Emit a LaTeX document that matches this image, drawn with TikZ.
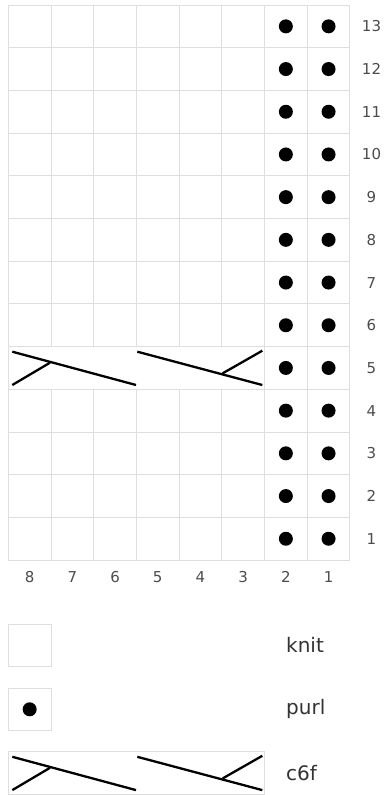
\documentclass[tikz,border=0pt]{standalone}
\usepackage{fontspec}
\setmainfont{DejaVu Sans}
\begin{document}
\begin{tikzpicture}[x=1pt,y=-1pt,
  gridline/.style={draw=black!13,line width=1pt},
  cable/.style={line width=2.3pt,black},
  purldot/.style={circle,fill=black,inner sep=0pt,minimum size=14pt},
  numlab/.style={font=\fontsize{15}{17}\selectfont,text=black!70,inner sep=0pt},
  leglab/.style={font=\fontsize{20}{24}\selectfont,text=black!80,anchor=west,inner sep=0pt}]
\useasboundingbox (0,0) rectangle (387,795);
\fill[white] (0,0) rectangle (387,795);
% cell geometry
\def\X{8.3}\def\W{42.7}\def\Y{5}
% grid cells
\foreach \r in {1,...,13}{
  \foreach \c in {1,...,8}{
    \pgfmathsetmacro{\lx}{\X+(8-\c)*\W}
    \pgfmathsetmacro{\ty}{\Y+(13-\r)*\W}
    \ifnum\r=5
      \ifnum\c<3
        \draw[gridline] (\lx,\ty) rectangle ++(\W,\W);
      \fi
    \else
      \draw[gridline] (\lx,\ty) rectangle ++(\W,\W);
    \fi
  }
}
% cable cell of row 5
\draw[gridline] (\X,346.6) rectangle (264.5,389.3);
\coordinate (ca1) at (12.3,351.7); \coordinate (ca2) at (136,385);
\coordinate (cb1) at (12.3,385);   \coordinate (cb2) at (50,362.7);
\coordinate (cc1) at (137.3,351.7);\coordinate (cc2) at (262.3,385);
\coordinate (cd1) at (222.7,373.3);\coordinate (cd2) at (262.3,350.7);
\draw[cable] (ca1) -- (ca2);
\draw[cable] (cb1) -- (cb2);
\draw[cable] (cc1) -- (cc2);
\draw[cable] (cd1) -- (cd2);
% purl dots
\foreach \r in {1,...,13}{
  \pgfmathsetmacro{\cy}{\Y+(13-\r)*\W+\W/2}
  \node[purldot] (p2r\r) at (285.85,\cy) {};
  \node[purldot] (p1r\r) at (328.55,\cy) {};
  \node[numlab] (row\r) at (371.5,\cy) {\r};
}
% column numbers
\foreach \c in {1,...,8}{
  \pgfmathsetmacro{\cx}{\X+(8-\c)*\W+\W/2}
  \node[numlab] (col\c) at (\cx,577) {\c};
}
% legend
\draw[gridline] (\X,624) rectangle ++(\W,\W);
\node[leglab] (lknit) at (286,645.3) {knit};
\draw[gridline] (\X,688) rectangle ++(\W,\W);
\node[purldot] (lpdot) at (29.65,709.3) {};
\node[leglab] (lpurl) at (286,709.3) {purl};
\draw[gridline] (\X,751.7) rectangle (264.5,794.4);
\begin{scope}[yshift=-405.1pt]
\coordinate (la1) at (12.3,351.7); \coordinate (la2) at (136,385);
\coordinate (lb1) at (12.3,385);   \coordinate (lb2) at (50,362.7);
\coordinate (lc1) at (137.3,351.7);\coordinate (lc2) at (262.3,385);
\coordinate (ld1) at (222.7,373.3);\coordinate (ld2) at (262.3,350.7);
\end{scope}
\draw[cable] (la1) -- (la2);
\draw[cable] (lb1) -- (lb2);
\draw[cable] (lc1) -- (lc2);
\draw[cable] (ld1) -- (ld2);
\node[leglab] (lc6f) at (286,773) {c6f};
\end{tikzpicture}
\end{document}
